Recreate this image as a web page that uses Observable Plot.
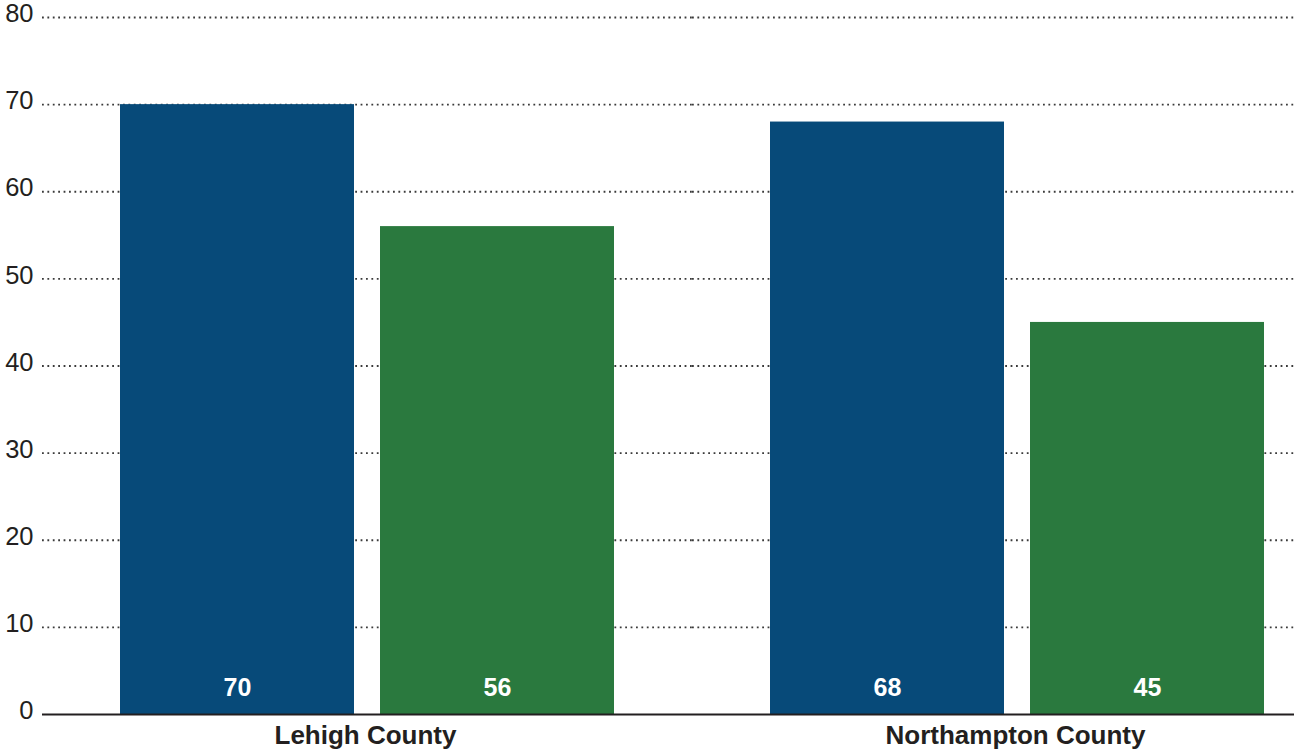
<!DOCTYPE html>
<html>
<head>
<meta charset="utf-8">
<script src="https://cdn.jsdelivr.net/npm/d3@7"></script>
<script src="https://cdn.jsdelivr.net/npm/@observablehq/plot@0.6"></script>
<style>
  body { margin: 0; background: #fff; overflow: hidden; }
  #chart svg { display: block; }
</style>
</head>
<body>
<div id="chart"></div>
<script>
// Counties along the bottom, two bars per county.
const counties = ["Lehigh County", "Northampton County"];
const seriesKeys = ["first", "second"];
const firstValues = [70, 68];
const secondValues = [56, 45];
const seriesColors = ["#074a79", "#2a793e"];
const yTicks = [0, 10, 20, 30, 40, 50, 60, 70, 80];

const rows = counties.flatMap((county, i) => [
  {county, series: seriesKeys[0], value: firstValues[i]},
  {county, series: seriesKeys[1], value: secondValues[i]}
]);

const ink = "#231f20";
const font = "Arial, 'Liberation Sans', Helvetica, sans-serif";

// Each county facet is a full step wide, so the facets abut and the grid
// reads as one continuous line; the last facet runs past the right edge.
const chart = Plot.plot({
  width: 1294,
  height: 752,
  marginLeft: 42,
  marginRight: -48,
  marginTop: 17,
  marginBottom: 38,
  style: {fontFamily: font, color: ink, background: "#fff"},
  fx: {domain: counties, padding: 0, label: null},
  x: {domain: seriesKeys, paddingInner: 0.1, paddingOuter: 0.3, axis: null},
  y: {domain: [0, 80], axis: null},
  color: {domain: seriesKeys, range: seriesColors},
  marks: [
    // dotted horizontal grid
    Plot.ruleY(yTicks.filter(d => d > 0), {
      stroke: "#3a3a3a",
      strokeWidth: 1.8,
      strokeDasharray: "1.8,3.6"
    }),
    Plot.barY(rows, {fx: "county", x: "series", y: "value", fill: "series"}),
    // value labels near the foot of each bar
    Plot.text(rows, {
      fx: "county",
      x: "series",
      y: 0,
      text: d => String(d.value),
      dy: -27,
      fill: "white",
      fontWeight: "bold",
      fontSize: 25
    }),
    Plot.ruleY([0], {stroke: ink, strokeWidth: 2}),
    Plot.axisY({
      ticks: yTicks,
      tickSize: 0,
      tickPadding: 9,
      fontSize: 25.5,
      dy: -3.5,
      label: null
    }),
    Plot.axisFx({
      anchor: "bottom",
      tickSize: 0,
      tickPadding: 11,
      fontSize: 26,
      fontWeight: "bold",
      dx: -2,
      label: null
    })
  ]
});

document.getElementById("chart").appendChild(chart);
</script>
</body>
</html>
